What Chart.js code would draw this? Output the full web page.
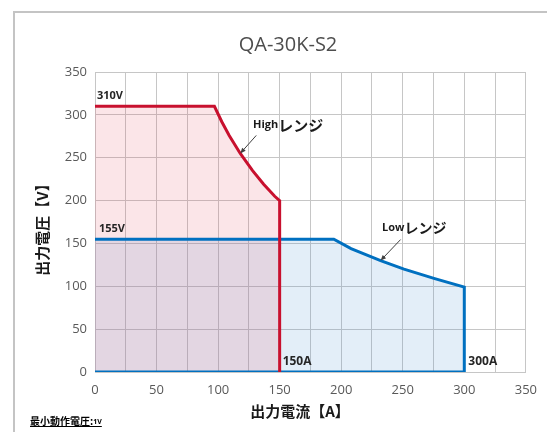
<!DOCTYPE html>
<html>
<head>
<meta charset="utf-8">
<script src="https://cdn.jsdelivr.net/npm/chart.js@4"></script>
<style>
  html, body { margin: 0; padding: 0; background: #fff; }
</style>
</head>
<body>
<canvas id="vaChart" width="547" height="432"></canvas>
<script>
// High range (red): output current [A] vs output voltage [V]
const highCurrent = [0, 97, 103, 109, 118, 128, 137, 146, 150, 150];
const highVoltage = [310, 310, 292, 276, 255, 235, 219, 205, 200, 0];

// Low range (blue)
const lowCurrent = [0, 194, 208, 220, 232, 251, 276, 300, 300];
const lowVoltage = [155, 155, 144, 137, 130, 120, 109, 99, 0];

// zero-voltage baseline of the low range
const baseCurrent = [0, 300];
const baseVoltage = [0, 0];

// labelled ticks (grid on x is every 25, labels every 50)
const xTickLabels = [0, 50, 100, 150, 200, 250, 300, 350];
const yTickLabels = [0, 50, 100, 150, 200, 250, 300, 350];

const toPoints = (xs, ys) => xs.map((x, i) => ({ x: x, y: ys[i] }));

const CJK = '"Noto Sans CJK JP", sans-serif';
const LATIN = '"Open Sans", sans-serif';

function drawText(ctx, str, x, y, font, color, align) {
  ctx.font = font;
  ctx.fillStyle = color;
  ctx.textAlign = align || 'left';
  ctx.textBaseline = 'middle';
  ctx.fillText(str, x, y);
  return ctx.measureText(str).width;
}

function drawArrow(ctx, x1, y1, x2, y2) {
  const ang = Math.atan2(y2 - y1, x2 - x1);
  ctx.strokeStyle = '#404040';
  ctx.fillStyle = '#404040';
  ctx.lineWidth = 1;
  ctx.beginPath();
  ctx.moveTo(x1, y1);
  ctx.lineTo(x2 - 4 * Math.cos(ang), y2 - 4 * Math.sin(ang));
  ctx.stroke();
  ctx.beginPath();
  ctx.moveTo(x2, y2);
  ctx.lineTo(x2 - 6 * Math.cos(ang - 0.4), y2 - 6 * Math.sin(ang - 0.4));
  ctx.lineTo(x2 - 6 * Math.cos(ang + 0.4), y2 - 6 * Math.sin(ang + 0.4));
  ctx.closePath();
  ctx.fill();
}

// frame, title, labels and notes
const decor = {
  id: 'decor',
  beforeDraw(chart) {
    const ctx = chart.ctx;
    ctx.save();
    ctx.fillStyle = '#fff';
    ctx.fillRect(0, 0, chart.width, chart.height);
    ctx.strokeStyle = '#c4c4c4';
    ctx.lineWidth = 2;
    ctx.beginPath();
    ctx.moveTo(14, chart.height);
    ctx.lineTo(14, 12);
    ctx.lineTo(chart.width, 12);
    ctx.stroke();
    ctx.restore();
  },
  afterDraw(chart) {
    const ctx = chart.ctx;
    const xs = chart.scales.x, ys = chart.scales.y;
    const px = v => xs.getPixelForValue(v);
    const py = v => ys.getPixelForValue(v);
    ctx.save();

    drawText(ctx, 'QA-30K-S2', 288, 45, '20px ' + LATIN, '#4d4d4d', 'center');

    // axis titles
    drawText(ctx, '出力電流【A】', 300, 411, 'bold 15px ' + CJK, '#1a1a1a', 'center');
    ctx.save();
    ctx.translate(42, 226);
    ctx.rotate(-Math.PI / 2);
    drawText(ctx, '出力電圧【V】', 0, 0, 'bold 15px ' + CJK, '#1a1a1a', 'center');
    ctx.restore();

    // value labels
    const lbl = 'bold 11px ' + LATIN;
    drawText(ctx, '310V', px(0) + 2, py(310) - 10, lbl, '#262626');
    drawText(ctx, '155V', px(0) + 4, py(155) - 10, lbl, '#262626');
    drawText(ctx, '150A', px(150) + 3, py(0) - 10, 'bold 12px ' + LATIN, '#262626');
    drawText(ctx, '300A', px(300) + 4, py(0) - 10, 'bold 12px ' + LATIN, '#262626');

    // range labels with arrows
    const hx = px(highCurrent[4]), hy = py(highVoltage[4]);
    let w = drawText(ctx, 'High', 253, 125, 'bold 11px ' + LATIN, '#1a1a1a');
    drawText(ctx, 'レンジ', 253 + w, 125, 'bold 15px ' + CJK, '#1a1a1a');
    drawArrow(ctx, hx + 16, hy - 18, hx, hy);

    const lx = px(lowCurrent[4]), ly = py(lowVoltage[4]);
    w = drawText(ctx, 'Low', 382, 228, 'bold 11px ' + LATIN, '#1a1a1a');
    drawText(ctx, 'レンジ', 382 + w, 228, 'bold 14px ' + CJK, '#1a1a1a');
    drawArrow(ctx, lx + 20, ly - 21, lx, ly);

    // footnote
    w = drawText(ctx, '最小動作電圧:', 30, 421, 'bold 10px ' + CJK, '#000');
    const w2 = drawText(ctx, '1V', 30 + w, 422, 'bold 7px ' + LATIN, '#000');
    ctx.strokeStyle = '#000';
    ctx.lineWidth = 1;
    ctx.beginPath();
    ctx.moveTo(30, 426.5);
    ctx.lineTo(30 + w + w2, 426.5);
    ctx.stroke();

    ctx.restore();
  }
};

new Chart(document.getElementById('vaChart'), {
  type: 'scatter',
  data: {
    datasets: [
      {
        label: 'Lowレンジ',
        data: toPoints(lowCurrent, lowVoltage),
        showLine: true,
        borderColor: '#0070C0',
        backgroundColor: 'rgba(91, 155, 213, 0.17)',
        fill: 'origin',
        borderWidth: 3,
        pointRadius: 0,
        order: 3,
      },
      {
        label: 'base',
        data: toPoints(baseCurrent, baseVoltage),
        showLine: true,
        borderColor: '#0070C0',
        fill: false,
        borderWidth: 3,
        pointRadius: 0,
        order: 2,
      },
      {
        label: 'Highレンジ',
        data: toPoints(highCurrent, highVoltage),
        showLine: true,
        borderColor: '#C8102E',
        backgroundColor: 'rgba(230, 80, 100, 0.15)',
        fill: 'origin',
        borderWidth: 3,
        pointRadius: 0,
        order: 1,
      },
    ],
  },
  options: {
    responsive: false,
    animation: false,
    devicePixelRatio: 1,
    layout: { padding: { top: 72, right: 18, left: 0, bottom: 0 } },
    plugins: {
      legend: { display: false },
      tooltip: { enabled: false },
      filler: { drawTime: 'beforeDatasetsDraw' },
    },
    scales: {
      x: {
        type: 'linear',
        min: 0,
        max: 350,
        afterFit: (s) => { s.height = 60; },
        grid: { color: '#c6c6c6', drawTicks: false },
        border: { color: '#c6c6c6' },
        ticks: {
          stepSize: 25,
          autoSkip: false,
          maxRotation: 0,
          padding: 10,
          color: '#595959',
          font: { family: LATIN, size: 13 },
          callback: (v) => (xTickLabels.includes(v) ? v : ''),
        },
      },
      y: {
        type: 'linear',
        min: 0,
        max: 350,
        afterFit: (s) => { s.width = 95; },
        grid: { color: '#c6c6c6', drawTicks: false },
        border: { color: '#c6c6c6' },
        ticks: {
          stepSize: 50,
          padding: 8,
          color: '#595959',
          font: { family: LATIN, size: 13 },
          callback: (v) => (yTickLabels.includes(v) ? v : ''),
        },
      },
    },
  },
  plugins: [decor],
});
</script>
</body>
</html>
